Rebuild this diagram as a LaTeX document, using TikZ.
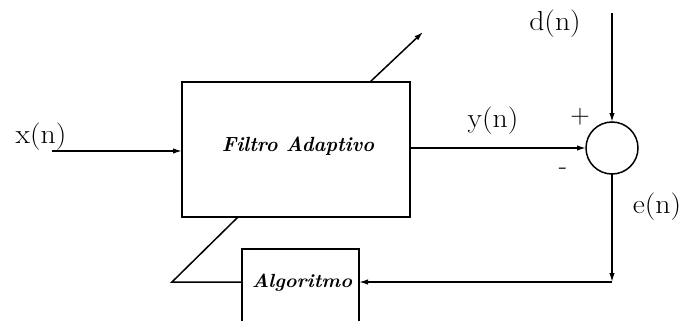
\documentclass[tikz,border=0pt]{standalone}
\usepackage{fontspec}
\usetikzlibrary{arrows.meta}
\begin{document}
\begin{tikzpicture}[x=1pt,y=-1pt,line width=1.5pt,
  >={Latex[length=9pt,width=5.5pt]},
  blk/.style={draw,rectangle,inner sep=0pt,outer sep=0pt},
  sumnode/.style={draw,circle,inner sep=0pt,outer sep=0pt,minimum size=52pt},
  lbl/.style={inner sep=0pt,font=\fontsize{27.5}{30}\selectfont},
  sgn/.style={inner sep=0pt,font=\fontsize{27}{30}\selectfont},
  boxtxt/.style={inner sep=0pt,font=\fontsize{20.5}{24}\selectfont\itshape\bfseries}]
\useasboundingbox (0,0) rectangle (685,321);
\clip (0,0) rectangle (685,321);
% blocks
\node[blk,minimum width=228pt,minimum height=135pt] (filter) at (296,149.5) {};
\node[boxtxt] (filtertxt) at (298,146) {\scalebox{0.97}[1]{Filtro Adaptivo}};
\node[blk,minimum width=117pt,minimum height=100pt] (algo) at (300.5,299) {};
\node[boxtxt] (algotxt) at (302,283) {\scalebox{1.05}[1]{\fontsize{19}{22}\selectfont Algoritmo}};
\node[sumnode] (sum) at (612,148) {};
% coordinates
\coordinate (xin) at (52,151);
\coordinate (dtop) at (612,13);
\coordinate (corner) at (612,282);
\coordinate (bl) at (172,282);
\coordinate (diagbot) at (238,217);
\coordinate (diagtop) at (370,82);
\coordinate (tip) at (423,32);
% connectors
\draw[->] (xin) -- (xin -| filter.west);
\draw[->] (filter.east |- sum.west) -- (sum.west);
\draw[->] (dtop) -- (sum.north);
\draw[->] (sum.south) -- (corner);
\draw[->] (corner) -- (corner -| algo.east);
\draw (bl -| algo.west) -- (bl) -- (diagbot);
\draw[->] (diagtop) -- (tip);
% labels
\node[lbl] (xl) at (41,137) {\scalebox{1.08}[1]{x(n)}};
\node[lbl] (yl) at (493,121) {\scalebox{1.08}[1]{y(n)}};
\node[lbl] (dl) at (555,24) {\scalebox{1.08}[1]{d(n)}};
\node[lbl] (el) at (657,207) {\scalebox{1.08}[1]{e(n)}};
\node[sgn] (plus) at (580,117) {+};
\node[sgn] (minus) at (563,171) {-};
\end{tikzpicture}
\end{document}
